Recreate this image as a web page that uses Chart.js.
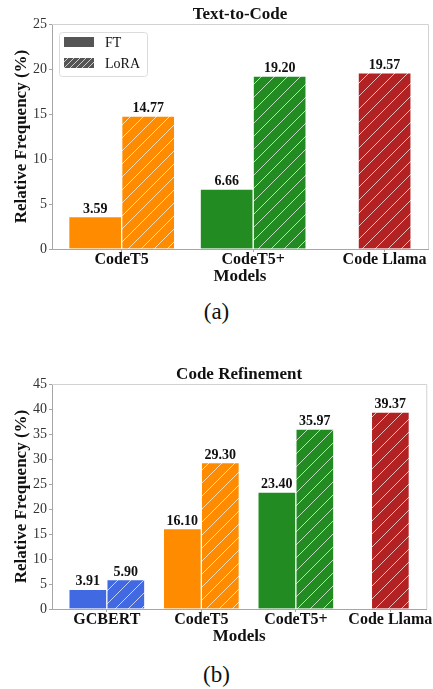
<!DOCTYPE html>
<html>
<head>
<meta charset="utf-8">
<script src="https://cdn.jsdelivr.net/npm/chart.js@4.4.1/dist/chart.umd.min.js"></script>
<style>
  body { margin: 0; background: #fff; width: 433px; height: 689px; position: relative; overflow: hidden; }
  canvas { position: absolute; left: 0; }
  #chartA { top: 0; }
  #chartB { top: 360px; }
  .caption { position: absolute; left: 0; width: 433px; text-align: center; font: 23px/26px "Liberation Serif", serif; color: #111; }
</style>
</head>
<body>
<canvas id="chartA" width="433" height="285"></canvas>
<div class="caption" style="top:299px">(a)</div>
<canvas id="chartB" width="433" height="285"></canvas>
<div class="caption" style="top:662px">(b)</div>

<script>
const SERIF = "'Liberation Serif', 'Times New Roman', serif";

// (a) Text-to-Code
const t2cModels = ["CodeT5", "CodeT5+", "Code Llama"];
const t2cFT = [3.59, 6.66, null];
const t2cLoRA = [14.77, 19.20, 19.57];
const t2cColors = ["#ff8c00", "#228b22", "#b22222"];
const t2cTicks = [0, 5, 10, 15, 20, 25];

// (b) Code Refinement
const crModels = ["GCBERT", "CodeT5", "CodeT5+", "Code Llama"];
const crFT = [3.91, 16.10, 23.40, null];
const crLoRA = [5.90, 29.30, 35.97, 39.37];
const crColors = ["#4169e1", "#ff8c00", "#228b22", "#b22222"];
const crTicks = [0, 5, 10, 15, 20, 25, 30, 35, 40, 45];

// "//" hatch on top of a fill colour
function hatch(color, size) {
  const c = document.createElement("canvas");
  c.width = c.height = size;
  const g = c.getContext("2d");
  g.fillStyle = color;
  g.fillRect(0, 0, size, size);
  g.strokeStyle = "rgba(255,255,255,0.7)";
  g.lineWidth = 1;
  g.beginPath();
  g.moveTo(0, size); g.lineTo(size, 0);
  g.moveTo(-2, 2); g.lineTo(2, -2);
  g.moveTo(size - 2, size + 2); g.lineTo(size + 2, size - 2);
  g.stroke();
  return g.createPattern(c, "repeat");
}

const valueLabels = {
  id: "valueLabels",
  afterDatasetsDraw(chart) {
    const ctx = chart.ctx;
    ctx.save();
    ctx.font = `bold 14px ${SERIF}`;
    ctx.fillStyle = "#111";
    ctx.textAlign = "center";
    ctx.textBaseline = "alphabetic";
    chart.data.datasets.forEach((ds, i) => {
      chart.getDatasetMeta(i).data.forEach((bar, j) => {
        const v = ds.data[j].y;
        if (v == null) return;
        ctx.fillText(v.toFixed(2), bar.x, bar.y - 4);
      });
    });
    ctx.restore();
  }
};

// light top/right spines
const frame = {
  id: "frame",
  beforeDatasetsDraw(chart) {
    const { ctx, chartArea: a } = chart;
    ctx.save();
    ctx.strokeStyle = "#d2d2d2";
    ctx.lineWidth = 1;
    ctx.beginPath();
    ctx.moveTo(a.left, a.top + 0.5);
    ctx.lineTo(a.right + 0.5, a.top + 0.5);
    ctx.lineTo(a.right + 0.5, a.bottom);
    ctx.stroke();
    ctx.restore();
  }
};

// boxed legend inside the plot, upper left
const boxLegend = {
  id: "boxLegend",
  afterDraw(chart, args, opts) {
    if (!opts.show) return;
    const { ctx, chartArea: a } = chart;
    const x = a.left + 7, y = a.top + 8, w = 88, h = 44;
    ctx.save();
    ctx.fillStyle = "rgba(255,255,255,0.85)";
    ctx.strokeStyle = "#dcdcdc";
    ctx.lineWidth = 1;
    ctx.beginPath();
    ctx.roundRect(x + 0.5, y + 0.5, w, h, 3);
    ctx.fill();
    ctx.stroke();
    const fills = ["#555555", hatch("#555555", 6)];
    chart.data.datasets.forEach((ds, k) => {
      const rowY = y + 10 + k * 21;
      ctx.fillStyle = fills[k];
      ctx.fillRect(x + 5, rowY - 5, 30, 10);
      ctx.fillStyle = "#111";
      ctx.font = `14px ${SERIF}`;
      ctx.textAlign = "left";
      ctx.textBaseline = "middle";
      ctx.fillText(ds.label, x + 46, rowY + 1);
    });
    ctx.restore();
  }
};

function makeChart(id, title, models, ft, lora, colors, yTicks, barPx, showLegend) {
  // matplotlib-like x limits: bars of width w, 5% margins
  const w = 0.4;
  const span = models.length - 1 + 1.5 * w;
  const xMin = -w - 0.05 * span;
  const xMax = models.length - 1 + w / 2 + 0.05 * span;

  return new Chart(document.getElementById(id), {
    type: "bar",
    data: {
      datasets: [
        {
          label: "FT",
          data: ft.map((y, i) => ({ x: i, y })),
          backgroundColor: colors,
          borderColor: "#ffffff",
          borderWidth: 1,
        },
        {
          label: "LoRA",
          data: lora.map((y, i) => ({ x: i, y })),
          backgroundColor: colors.map((c) => hatch(c, 13)),
          borderColor: "#ffffff",
          borderWidth: 1,
        },
      ],
    },
    options: {
      responsive: false,
      animation: false,
      events: [],
      datasets: { bar: { skipNull: true, barThickness: barPx } },
      layout: { padding: { left: 0, right: 5, top: 0, bottom: 0 } },
      plugins: {
        legend: { display: false },
        tooltip: { enabled: false },
        boxLegend: { show: showLegend },
        title: {
          display: true,
          text: title,
          fullSize: false,
          color: "#111",
          font: { family: SERIF, size: 17, weight: "bold", lineHeight: 1 },
          padding: { top: 6, bottom: 1 },
        },
      },
      scales: {
        x: {
          type: "linear",
          bounds: "data",
          offset: false,
          min: xMin,
          max: xMax,
          afterBuildTicks: (s) => { s.ticks = models.map((_, i) => ({ value: i })); },
          grid: { display: true, offset: false, drawOnChartArea: false, tickLength: 3, color: "#a6a6a6" },
          border: { display: true, color: "#a6a6a6", width: 1 },
          ticks: {
            autoSkip: false,
            maxRotation: 0,
            padding: 0,
            color: "#111",
            font: { family: SERIF, size: 16, weight: "bold", lineHeight: 1 },
            callback: (v) => models[v],
          },
          title: {
            display: true,
            text: "Models",
            color: "#111",
            font: { family: SERIF, size: 17, weight: "bold", lineHeight: 1 },
            padding: 0,
          },
        },
        y: {
          min: 0,
          max: yTicks[yTicks.length - 1],
          afterBuildTicks: (s) => { s.ticks = yTicks.map((v) => ({ value: v })); },
          afterFit: (s) => { s.width = 52; },
          grid: { display: true, drawOnChartArea: false, tickLength: 3, color: "#a6a6a6" },
          border: { display: true, color: "#a6a6a6", width: 1 },
          ticks: { padding: 2, color: "#333", font: { family: SERIF, size: 14 } },
          title: {
            display: true,
            text: "Relative Frequency (%)",
            color: "#111",
            font: { family: SERIF, size: 17, weight: "bold", lineHeight: 1 },
            padding: { top: 13, bottom: 0 },
          },
        },
      },
    },
    plugins: [frame, valueLabels, boxLegend],
  });
}

makeChart("chartA", "Text-to-Code", t2cModels, t2cFT, t2cLoRA, t2cColors, t2cTicks, 53, true);
makeChart("chartB", "Code Refinement", crModels, crFT, crLoRA, crColors, crTicks, 38, false);
</script>
</body>
</html>
